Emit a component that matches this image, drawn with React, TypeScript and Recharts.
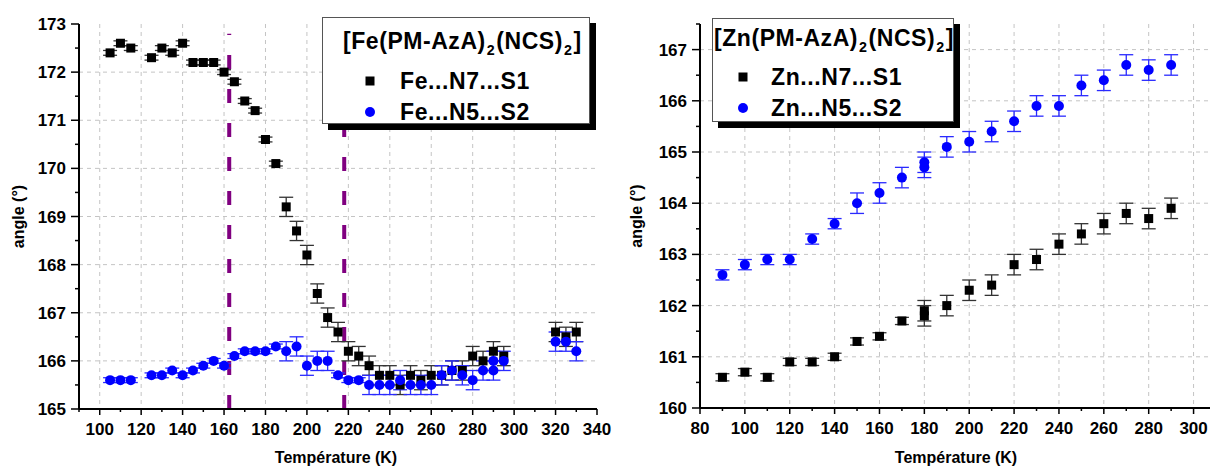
import React from 'react';
import { ScatterChart, Scatter, XAxis, YAxis, CartesianGrid, ErrorBar, ReferenceLine } from 'recharts';

const FONT = '"Liberation Sans", Arial, Helvetica, sans-serif';

// [Fe(PM-AzA)2(NCS)2] : Fe...N7...S1
const feN7T = [105, 110, 115, 125, 130, 135, 140, 145, 150, 155, 160, 165, 170, 175, 180, 185, 190, 195, 200, 205, 210, 215, 220, 225, 230, 235, 240, 245, 250, 255, 260, 265, 270, 275, 280, 285, 290, 295, 320, 325, 330];
const feN7V = [172.4, 172.6, 172.5, 172.3, 172.5, 172.4, 172.6, 172.2, 172.2, 172.2, 172.0, 171.8, 171.4, 171.2, 170.6, 170.1, 169.2, 168.7, 168.2, 167.4, 166.9, 166.6, 166.2, 166.1, 165.9, 165.7, 165.7, 165.5, 165.7, 165.6, 165.7, 165.7, 165.8, 165.8, 166.1, 166.0, 166.2, 166.1, 166.6, 166.5, 166.6];
const feN7E = [0.05, 0.05, 0.05, 0.05, 0.05, 0.05, 0.05, 0.05, 0.05, 0.05, 0.05, 0.05, 0.05, 0.05, 0.05, 0.05, 0.2, 0.2, 0.2, 0.2, 0.2, 0.2, 0.2, 0.2, 0.2, 0.2, 0.2, 0.2, 0.2, 0.2, 0.2, 0.2, 0.2, 0.2, 0.2, 0.2, 0.2, 0.2, 0.2, 0.2, 0.2];

// [Fe(PM-AzA)2(NCS)2] : Fe...N5...S2
const feN5T = [105, 110, 115, 125, 130, 135, 140, 145, 150, 155, 160, 165, 170, 175, 180, 185, 190, 195, 200, 205, 210, 215, 220, 225, 230, 235, 240, 245, 250, 255, 260, 265, 270, 275, 280, 285, 290, 290, 295, 320, 325, 330];
const feN5V = [165.6, 165.6, 165.6, 165.7, 165.7, 165.8, 165.7, 165.8, 165.9, 166.0, 165.9, 166.1, 166.2, 166.2, 166.2, 166.3, 166.2, 166.3, 165.9, 166.0, 166.0, 165.7, 165.6, 165.6, 165.5, 165.5, 165.5, 165.6, 165.5, 165.5, 165.5, 165.7, 165.8, 165.7, 165.6, 165.8, 165.8, 166.0, 166.0, 166.4, 166.4, 166.2];
const feN5E = [0.05, 0.05, 0.05, 0.05, 0.05, 0.05, 0.05, 0.05, 0.05, 0.05, 0.05, 0.05, 0.05, 0.05, 0.05, 0.05, 0.2, 0.2, 0.2, 0.2, 0.2, 0.05, 0.05, 0.05, 0.2, 0.2, 0.2, 0.2, 0.2, 0.2, 0.2, 0.2, 0.2, 0.2, 0.2, 0.2, 0.2, 0.2, 0.2, 0.2, 0.2, 0.2];

// spin transition limits (dashed purple lines)
const transitionT = [162.5, 218];

// [Zn(PM-AzA)2(NCS)2] : Zn...N7...S1
const znN7T = [90, 100, 110, 120, 130, 140, 150, 160, 170, 180, 180, 190, 200, 210, 220, 230, 240, 250, 260, 270, 280, 290];
const znN7V = [160.6, 160.7, 160.6, 160.9, 160.9, 161.0, 161.3, 161.4, 161.7, 161.8, 161.9, 162.0, 162.3, 162.4, 162.8, 162.9, 163.2, 163.4, 163.6, 163.8, 163.7, 163.9];
const znN7E = [0.07, 0.07, 0.07, 0.07, 0.07, 0.07, 0.07, 0.07, 0.07, 0.2, 0.2, 0.2, 0.2, 0.2, 0.2, 0.2, 0.2, 0.2, 0.2, 0.2, 0.2, 0.2];

// [Zn(PM-AzA)2(NCS)2] : Zn...N5...S2
const znN5T = [90, 100, 110, 120, 130, 140, 150, 160, 170, 180, 180, 190, 200, 210, 220, 230, 240, 250, 260, 270, 280, 290];
const znN5V = [162.6, 162.8, 162.9, 162.9, 163.3, 163.6, 164.0, 164.2, 164.5, 164.8, 164.7, 165.1, 165.2, 165.4, 165.6, 165.9, 165.9, 166.3, 166.4, 166.7, 166.6, 166.7];
const znN5E = [0.1, 0.1, 0.1, 0.1, 0.1, 0.1, 0.2, 0.2, 0.2, 0.2, 0.2, 0.2, 0.2, 0.2, 0.2, 0.2, 0.2, 0.2, 0.2, 0.2, 0.2, 0.2];

// axis ticks
const feXMajor = [100, 120, 140, 160, 180, 200, 220, 240, 260, 280, 300, 320, 340];
const feXMinor = [90, 110, 130, 150, 170, 190, 210, 230, 250, 270, 290, 310, 330];
const feYMajor = [165, 166, 167, 168, 169, 170, 171, 172, 173];
const feYMinor = [165.5, 166.5, 167.5, 168.5, 169.5, 170.5, 171.5, 172.5];
const znXMajor = [80, 100, 120, 140, 160, 180, 200, 220, 240, 260, 280, 300];
const znXMinor = [90, 110, 130, 150, 170, 190, 210, 230, 250, 270, 290, 310];
const znYMajor = [160, 161, 162, 163, 164, 165, 166, 167];
const znYMinor = [160.5, 161.5, 162.5, 163.5, 164.5, 165.5, 166.5, 167.5];

const toPoints = (t: number[], v: number[], e: number[]) =>
  t.map((x, i) => ({ t: x, v: v[i], e: e[i] }));

const merge = (a: number[], b: number[]) => [...a, ...b].sort((p, q) => p - q);

const SquareDot = (props: any) => (
  <rect x={props.cx - 4.5} y={props.cy - 4.5} width={9} height={9} fill="#000" />
);
const CircleDot = (props: any) => <circle cx={props.cx} cy={props.cy} r={5} fill="#0000ff" />;

const makeXTick = (majors: number[]) => (props: any) => {
  const { x, y, payload } = props;
  const major = majors.includes(payload.value);
  return (
    <g>
      <line x1={x} y1={y} x2={x} y2={y + (major ? 6 : 3)} stroke="#000" strokeWidth={1.5} />
      {major && (
        <text x={x} y={y + 26} textAnchor="middle" fontSize={17} fontWeight="bold" fontFamily={FONT} fill="#000">
          {payload.value}
        </text>
      )}
    </g>
  );
};

const makeYTick = (majors: number[]) => (props: any) => {
  const { x, y, payload } = props;
  const major = majors.includes(payload.value);
  return (
    <g>
      <line x1={x} y1={y} x2={x - (major ? 8 : 4)} y2={y} stroke="#000" strokeWidth={1.5} />
      {major && (
        <text x={x - 13} y={y + 6} textAnchor="end" fontSize={17} fontWeight="bold" fontFamily={FONT} fill="#000">
          {payload.value}
        </text>
      )}
    </g>
  );
};

const xTitle = (dy: number) => (props: any) => {
  const vb = props.viewBox || { x: 0, y: 0, width: 0, height: 0 };
  return (
    <text x={vb.x + vb.width / 2 - 2} y={vb.y + dy} textAnchor="middle" fontSize={16} fontWeight="bold" fontFamily={FONT} fill="#000">
      Température (K)
    </text>
  );
};

const yTitle = (dx: number) => (props: any) => {
  const vb = props.viewBox || { x: 0, y: 0, width: 0, height: 0 };
  const cx = vb.x + dx;
  const cy = vb.y + vb.height / 2;
  return (
    <text x={cx} y={cy} transform={`rotate(-90 ${cx} ${cy})`} textAnchor="middle" fontSize={16} fontWeight="bold" fontFamily={FONT} fill="#000">
      angle (°)
    </text>
  );
};

// grid lines only at the major ticks, strictly inside the domain
const gridX = (majors: number[], lo: number, hi: number) => (p: any) => {
  const o = p.offset;
  return majors
    .filter((v) => v > lo && v < hi)
    .map((v) => o.left + ((v - lo) / (hi - lo)) * o.width);
};
const gridY = (majors: number[], lo: number, hi: number) => (p: any) => {
  const o = p.offset;
  return majors
    .filter((v) => v > lo && v < hi)
    .map((v) => o.top + ((hi - v) / (hi - lo)) * o.height);
};

const Sub = ({ children }: { children: React.ReactNode }) => (
  <span style={{ fontSize: '0.62em', position: 'relative', top: '0.42em', margin: '0 1px' }}>{children}</span>
);

interface LegendProps {
  left: number;
  top: number;
  width: number;
  height: number;
  metal: string;
  titleX: number;
  titleY: number;
  symX: number;
  textX: number;
  rows: number[];
  labels: string[];
}

const LegendBox: React.FC<LegendProps> = ({ left, top, width, height, metal, titleX, titleY, symX, textX, rows, labels }) => (
  <div
    style={{
      position: 'absolute',
      left,
      top,
      width,
      height,
      boxSizing: 'border-box',
      border: '1.5px solid #555',
      background: '#fff',
      boxShadow: '6px 6px 0 #000',
      fontFamily: FONT,
      fontWeight: 'bold',
      color: '#000',
    }}
  >
    <div style={{ position: 'absolute', left: titleX, top: titleY - 13, fontSize: 23, lineHeight: '26px', whiteSpace: 'nowrap', letterSpacing: 0.55 }}>
      [{metal}(PM-AzA)<Sub>2</Sub>(NCS)<Sub>2</Sub>]
    </div>
    {labels.map((lab, i) => (
      <React.Fragment key={lab}>
        <svg style={{ position: 'absolute', left: symX - 6, top: rows[i] - 6 }} width={12} height={12}>
          {i === 0 ? <rect x={1.5} y={1.5} width={9} height={9} fill="#000" /> : <circle cx={6} cy={6} r={5} fill="#0000ff" />}
        </svg>
        <div style={{ position: 'absolute', left: textX, top: rows[i] - 13, fontSize: 23, lineHeight: '26px', whiteSpace: 'nowrap', letterSpacing: 0.6 }}>
          {lab}
        </div>
      </React.Fragment>
    ))}
  </div>
);

export default function App() {
  const feN7 = toPoints(feN7T, feN7V, feN7E);
  const feN5 = toPoints(feN5T, feN5V, feN5E);
  const znN7 = toPoints(znN7T, znN7V, znN7E);
  const znN5 = toPoints(znN5T, znN5V, znN5E);

  return (
    <div style={{ position: 'absolute', left: 0, top: 0, width: 1210, height: 468, overflow: 'hidden', background: '#fff', fontFamily: FONT }}>
      <div style={{ position: 'absolute', left: 0, top: 0 }}>
        <ScatterChart width={625} height={468} margin={{ top: 24, right: 28, bottom: 0, left: 0 }}>
          <CartesianGrid
            stroke="#c4c4c4"
            strokeDasharray="4 4"
            verticalCoordinatesGenerator={gridX(feXMajor, 90, 340)}
            horizontalCoordinatesGenerator={gridY(feYMajor, 165, 173)}
          />
          <XAxis
            type="number"
            dataKey="t"
            domain={[90, 340]}
            ticks={merge(feXMajor, feXMinor)}
            interval={0}
            allowDataOverflow
            height={59}
            tickSize={0}
            tickMargin={0}
            tickLine={false}
            axisLine={{ stroke: '#000', strokeWidth: 2 }}
            tick={makeXTick(feXMajor)}
            label={xTitle(54)}
          />
          <YAxis
            type="number"
            dataKey="v"
            domain={[165, 173]}
            ticks={merge(feYMajor, feYMinor)}
            interval={0}
            allowDataOverflow
            width={79}
            tickSize={0}
            tickMargin={0}
            tickLine={false}
            axisLine={{ stroke: '#000', strokeWidth: 2 }}
            tick={makeYTick(feYMajor)}
            label={yTitle(24)}
          />
          {transitionT.map((t) => (
            <ReferenceLine
              key={t}
              segment={[{ x: t, y: 165 }, { x: t, y: 172.8 }]}
              stroke="#800080"
              strokeWidth={4}
              strokeDasharray="14 20"
            />
          ))}
          <Scatter data={feN7} shape={SquareDot} isAnimationActive={false}>
            <ErrorBar dataKey="e" direction="y" width={7} stroke="#333" strokeWidth={1.3} isAnimationActive={false} />
          </Scatter>
          <Scatter data={feN5} shape={CircleDot} isAnimationActive={false}>
            <ErrorBar dataKey="e" direction="y" width={7} stroke="#2a2aff" strokeWidth={1.3} isAnimationActive={false} />
          </Scatter>
        </ScatterChart>
      </div>

      <div style={{ position: 'absolute', left: 615, top: 0 }}>
        <ScatterChart width={610} height={468} margin={{ top: 24, right: 9, bottom: 0, left: 0 }}>
          <CartesianGrid
            stroke="#c4c4c4"
            strokeDasharray="4 4"
            verticalCoordinatesGenerator={gridX(znXMajor, 80, 310)}
            horizontalCoordinatesGenerator={gridY(znYMajor, 160, 167.5)}
          />
          <XAxis
            type="number"
            dataKey="t"
            domain={[80, 310]}
            ticks={merge(znXMajor, znXMinor)}
            interval={0}
            allowDataOverflow
            height={60}
            tickSize={0}
            tickMargin={0}
            tickLine={false}
            axisLine={{ stroke: '#000', strokeWidth: 2 }}
            tick={makeXTick(znXMajor)}
            label={xTitle(55)}
          />
          <YAxis
            type="number"
            dataKey="v"
            domain={[160, 167.5]}
            ticks={merge(znYMajor, znYMinor)}
            interval={0}
            allowDataOverflow
            width={85}
            tickSize={0}
            tickMargin={0}
            tickLine={false}
            axisLine={{ stroke: '#000', strokeWidth: 2 }}
            tick={makeYTick(znYMajor)}
            label={yTitle(27)}
          />
          <Scatter data={znN7} shape={SquareDot} isAnimationActive={false}>
            <ErrorBar dataKey="e" direction="y" width={7} stroke="#333" strokeWidth={1.3} isAnimationActive={false} />
          </Scatter>
          <Scatter data={znN5} shape={CircleDot} isAnimationActive={false}>
            <ErrorBar dataKey="e" direction="y" width={7} stroke="#2a2aff" strokeWidth={1.3} isAnimationActive={false} />
          </Scatter>
        </ScatterChart>
      </div>

      <LegendBox
        left={322}
        top={17}
        width={268}
        height={107}
        metal="Fe"
        titleX={20}
        titleY={23}
        symX={47}
        textX={77}
        rows={[63, 94]}
        labels={['Fe...N7...S1', 'Fe...N5...S2']}
      />
      <LegendBox
        left={712}
        top={18}
        width={242}
        height={104}
        metal="Zn"
        titleX={1}
        titleY={19}
        symX={30}
        textX={58}
        rows={[58, 89]}
        labels={['Zn...N7...S1', 'Zn...N5...S2']}
      />
    </div>
  );
}
